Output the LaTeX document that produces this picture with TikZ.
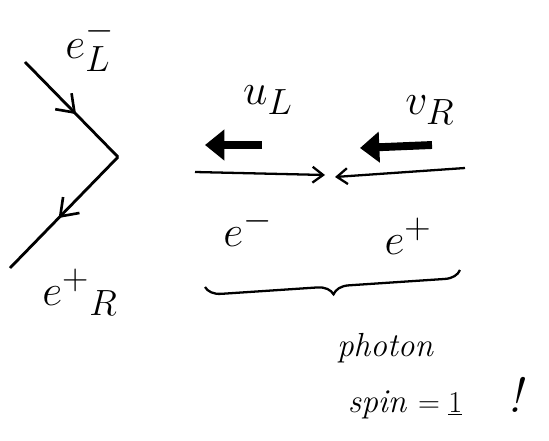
\documentclass[tikz,border=0pt]{standalone}
\usepackage{tikz}
\usetikzlibrary{arrows.meta,decorations.markings,decorations.pathreplacing}

\begin{document}
\begin{tikzpicture}[
    fermion/.style={line width=1.6pt, postaction={decorate},
      decoration={markings, mark=at position 0.55 with {\arrow{Straight Barb[length=9pt,width=13pt,line width=1.5pt]}}}},
    helicity/.style={line width=4.5pt, -{Triangle[length=11pt,width=17pt]}},
    momentum/.style={line width=1.3pt, -{Straight Barb[length=6pt,width=9pt]}},
    lbl/.style={font=\fontsize{28}{32}\selectfont},
    note/.style={font=\fontsize{19}{23}\selectfont\itshape, align=left}
  ]
  \useasboundingbox (0,0) rectangle (10.98,8.8);

  % Annihilation vertex
  \coordinate (ein) at (0.5,7.56);
  \coordinate (vtx) at (2.36,5.66);
  \coordinate (eout) at (0.2,3.44);
  \draw[fermion] (ein) -- (vtx);
  \draw[fermion] (vtx) -- (eout);
  \node[lbl] (eL) at (1.8,7.9) {$e^-_L$};
  \node[lbl] (eR) at (1.6,2.96) {$e^{+}{}_{R}$};

  % Spinors and helicities
  \node[lbl] (uL) at (5.36,6.8) {$u_L$};
  \node[lbl] (vR) at (8.6,6.6) {$v_R$};
  \coordinate (hlA) at (5.24,5.9);
  \coordinate (hlB) at (4.1,5.9);
  \coordinate (hrA) at (8.64,5.9);
  \coordinate (hrB) at (7.2,5.84);
  \draw[helicity] (hlA) -- (hlB);
  \draw[helicity] (hrA) -- (hrB);

  % Momenta
  \coordinate (pl) at (3.9,5.36);
  \coordinate (plend) at (6.5,5.3);
  \coordinate (pr) at (9.3,5.44);
  \coordinate (prend) at (6.7,5.26);
  \draw[momentum] (pl) -- (plend);
  \draw[momentum] (pr) -- (prend);
  \node[lbl] (em) at (4.96,4.24) {$e^-$};
  \node[lbl] (ep) at (8.16,4.08) {$e^+$};

  % Spin sum
  \coordinate (brA) at (4.1,3.06);
  \coordinate (brB) at (9.2,3.4);
  \draw[line width=1.3pt, decorate, decoration={brace, mirror, amplitude=9pt}] (brA) -- (brB);
  \node[note] (photon) at (7.7,1.84) {photon};
  \node[note] (spin) at (8.7,0.84) {spin $=\underline{1}$ \quad {\fontsize{28}{30}\selectfont !}};
\end{tikzpicture}
\end{document}
